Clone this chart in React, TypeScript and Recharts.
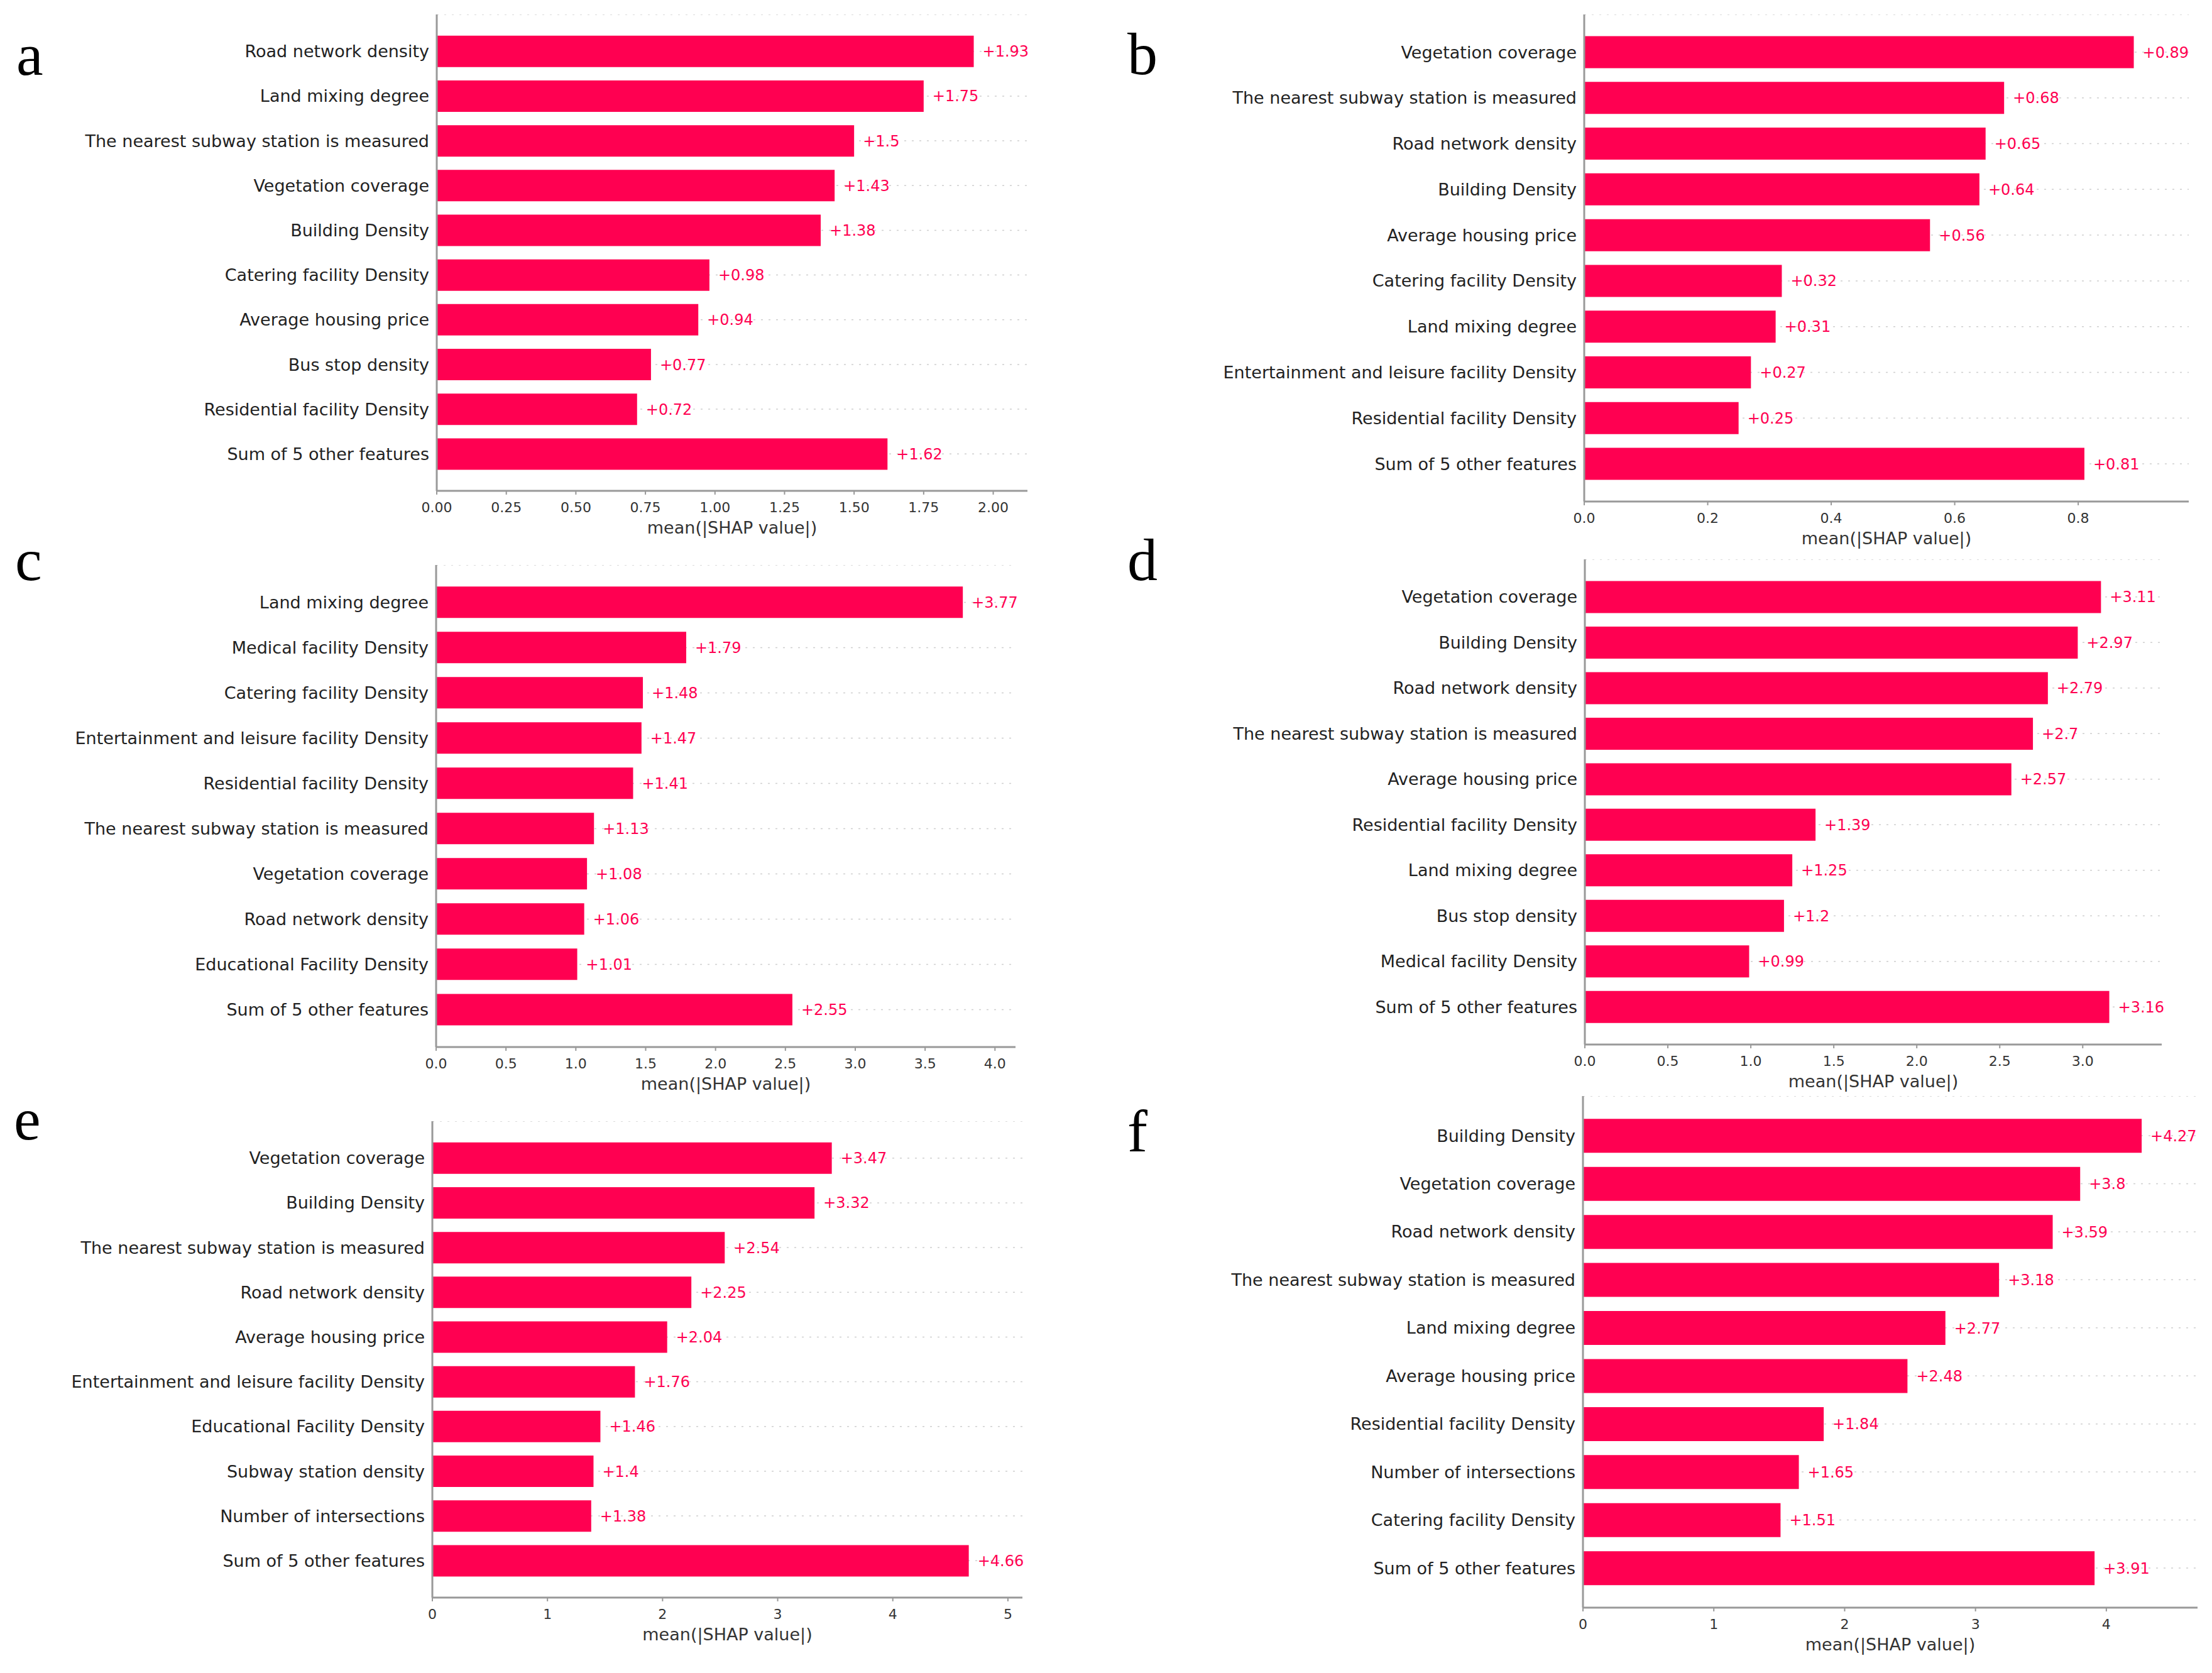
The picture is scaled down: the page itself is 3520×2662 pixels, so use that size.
import React from 'react';
import { BarChart, Bar, XAxis, YAxis, CartesianGrid, LabelList } from 'recharts';

const featuresA = ['Road network density', 'Land mixing degree', 'The nearest subway station is measured', 'Vegetation coverage', 'Building Density', 'Catering facility Density', 'Average housing price', 'Bus stop density', 'Residential facility Density', 'Sum of 5 other features'];
const valuesA = [1.93, 1.75, 1.5, 1.43, 1.38, 0.98, 0.94, 0.77, 0.72, 1.62];
const ticksA = [0, 0.25, 0.5, 0.75, 1.0, 1.25, 1.5, 1.75, 2.0];

const featuresB = ['Vegetation coverage', 'The nearest subway station is measured', 'Road network density', 'Building Density', 'Average housing price', 'Catering facility Density', 'Land mixing degree', 'Entertainment and leisure facility Density', 'Residential facility Density', 'Sum of 5 other features'];
const valuesB = [0.89, 0.68, 0.65, 0.64, 0.56, 0.32, 0.31, 0.27, 0.25, 0.81];
const ticksB = [0, 0.2, 0.4, 0.6, 0.8];

const featuresC = ['Land mixing degree', 'Medical facility Density', 'Catering facility Density', 'Entertainment and leisure facility Density', 'Residential facility Density', 'The nearest subway station is measured', 'Vegetation coverage', 'Road network density', 'Educational Facility Density', 'Sum of 5 other features'];
const valuesC = [3.77, 1.79, 1.48, 1.47, 1.41, 1.13, 1.08, 1.06, 1.01, 2.55];
const ticksC = [0, 0.5, 1.0, 1.5, 2.0, 2.5, 3.0, 3.5, 4.0];

const featuresD = ['Vegetation coverage', 'Building Density', 'Road network density', 'The nearest subway station is measured', 'Average housing price', 'Residential facility Density', 'Land mixing degree', 'Bus stop density', 'Medical facility Density', 'Sum of 5 other features'];
const valuesD = [3.11, 2.97, 2.79, 2.7, 2.57, 1.39, 1.25, 1.2, 0.99, 3.16];
const ticksD = [0, 0.5, 1.0, 1.5, 2.0, 2.5, 3.0];

const featuresE = ['Vegetation coverage', 'Building Density', 'The nearest subway station is measured', 'Road network density', 'Average housing price', 'Entertainment and leisure facility Density', 'Educational Facility Density', 'Subway station density', 'Number of intersections', 'Sum of 5 other features'];
const valuesE = [3.47, 3.32, 2.54, 2.25, 2.04, 1.76, 1.46, 1.4, 1.38, 4.66];
const ticksE = [0, 1, 2, 3, 4, 5];

const featuresF = ['Building Density', 'Vegetation coverage', 'Road network density', 'The nearest subway station is measured', 'Land mixing degree', 'Average housing price', 'Residential facility Density', 'Number of intersections', 'Catering facility Density', 'Sum of 5 other features'];
const valuesF = [4.27, 3.8, 3.59, 3.18, 2.77, 2.48, 1.84, 1.65, 1.51, 3.91];
const ticksF = [0, 1, 2, 3, 4];

const panelLetters = ['a', 'b', 'c', 'd', 'e', 'f'];

const RED = '#FF0051';
const FONT = 'DejaVu Sans';
const YW = 640;
const XH = 90;
const RM = 90;

type Panel = {
  features: string[];
  values: number[];
  ticks: number[];
  digits: number;
  x0: number;
  x1: number;
  top: number;
  bottom: number;
  lx: number;
  ly: number;
};

const panels: Panel[] = [
  { features: featuresA, values: valuesA, ticks: ticksA, digits: 2, x0: 695, x1: 1635, top: 23, bottom: 781, lx: 26, ly: 119 },
  { features: featuresB, values: valuesB, ticks: ticksB, digits: 1, x0: 2521, x1: 3483, top: 23, bottom: 798, lx: 1794, ly: 118 },
  { features: featuresC, values: valuesC, ticks: ticksC, digits: 1, x0: 694, x1: 1616, top: 899, bottom: 1666, lx: 24, ly: 923 },
  { features: featuresD, values: valuesD, ticks: ticksD, digits: 1, x0: 2522, x1: 3440, top: 890, bottom: 1662, lx: 1794, ly: 923 },
  { features: featuresE, values: valuesE, ticks: ticksE, digits: 0, x0: 688, x1: 1627, top: 1784, bottom: 2542, lx: 22, ly: 1813 },
  { features: featuresF, values: valuesF, ticks: ticksF, digits: 0, x0: 2519, x1: 3497, top: 1744, bottom: 2558, lx: 1794, ly: 1832 },
];

function ShapPanel({ p }: { p: Panel }) {
  const data = p.features.map((f, i) => ({ feature: f, value: p.values[i] }));
  const H = p.bottom - p.top;
  const pad = H * 0.0305;
  const maxV = Math.max(...p.values) * 1.1;
  const width = YW + (p.x1 - p.x0) + RM;
  const height = H + XH;
  return (
    <div style={{ position: 'absolute', left: p.x0 - YW, top: p.top, width, height }}>
      <BarChart
        width={width}
        height={height}
        data={data}
        layout="vertical"
        margin={{ top: 0, right: RM, left: 0, bottom: 0 }}
        barCategoryGap="15%"
      >
        <CartesianGrid horizontal={true} vertical={false} stroke="#cfcfcf" strokeWidth={1.5} strokeDasharray="3 9" />
        <XAxis
          type="number"
          domain={[0, maxV]}
          ticks={p.ticks}
          tickFormatter={(v: number) => v.toFixed(p.digits)}
          tick={{ fontSize: 22, fill: '#333', fontFamily: FONT }}
          tickLine={{ stroke: '#999', strokeWidth: 2 }}
          axisLine={{ stroke: '#999', strokeWidth: 3 }}
          tickSize={6}
          tickMargin={12}
          height={XH}
          allowDataOverflow={true}
          label={{ value: 'mean(|SHAP value|)', position: 'insideBottom', offset: 22, fontSize: 27, fill: '#333', fontFamily: FONT }}
        />
        <YAxis
          type="category"
          dataKey="feature"
          width={YW}
          tick={{ fontSize: 27, fill: '#222', fontFamily: FONT }}
          tickLine={false}
          tickSize={0}
          tickMargin={12}
          axisLine={{ stroke: '#999', strokeWidth: 3 }}
          padding={{ top: pad, bottom: pad }}
          interval={0}
        />
        <Bar dataKey="value" fill={RED} isAnimationActive={false}>
          <LabelList
            dataKey="value"
            position="right"
            offset={14}
            formatter={(v: number) => '+' + v}
            fill={RED}
            fontSize={24}
            fontFamily={FONT}
          />
        </Bar>
      </BarChart>
    </div>
  );
}

export default function App() {
  return (
    <div style={{ position: 'absolute', left: 0, top: 0, width: 3520, height: 2662, background: '#fff', overflow: 'hidden' }}>
      {panels.map((p, i) => (
        <ShapPanel key={i} p={p} />
      ))}
      <svg width={3520} height={2662} style={{ position: 'absolute', left: 0, top: 0, pointerEvents: 'none' }}>
        {panels.map((p, i) => (
          <text key={i} x={p.lx} y={p.ly} fontFamily="Liberation Serif" fontSize={96} fill="#000">
            {panelLetters[i]}
          </text>
        ))}
      </svg>
    </div>
  );
}
